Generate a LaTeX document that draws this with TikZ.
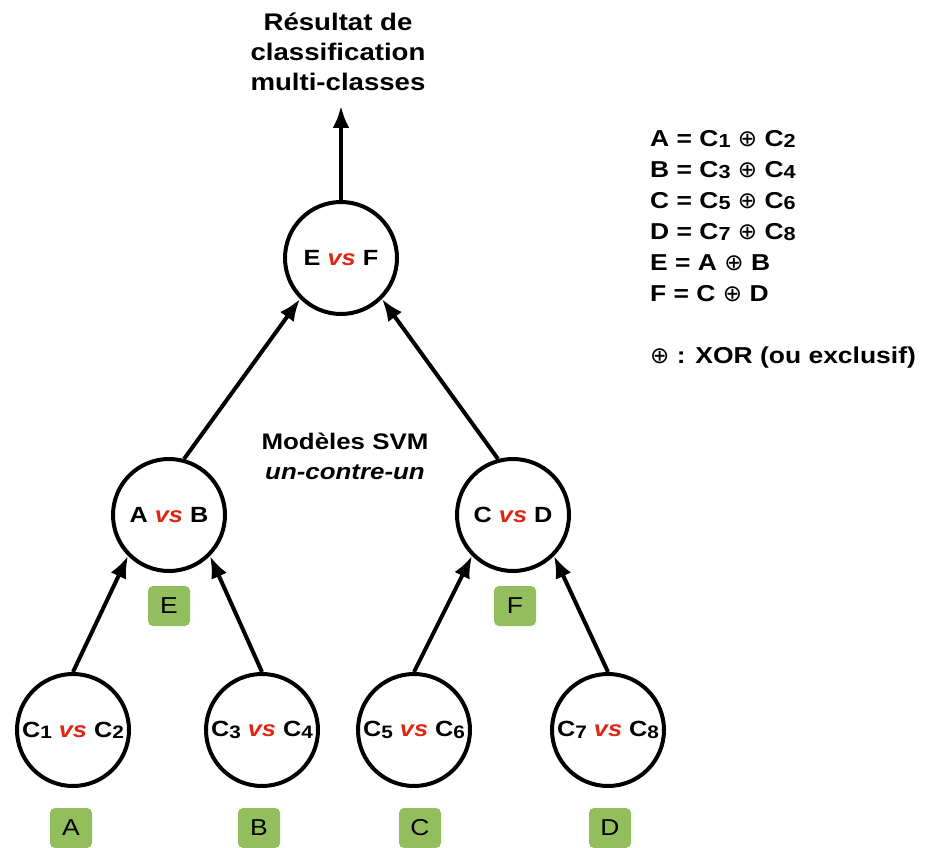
\documentclass[tikz,border=0pt]{standalone}
\usepackage{fontspec}
\usepackage{graphicx}
\setmainfont{Liberation Sans}[FakeStretch=1.15]
\newfontfamily\symfont{DejaVu Sans}
\usetikzlibrary{arrows.meta}
\definecolor{vsred}{RGB}{222,38,18}
\definecolor{tagGreen}{RGB}{146,190,94}
\newcommand{\idx}[1]{\raisebox{-0.06em}{\scalebox{0.82}{#1}}}
\newcommand{\vs}{\textcolor{vsred}{\textit{vs}}}
\newcommand{\xor}{{\symfont\mdseries ⊕}}

\begin{document}
\begin{tikzpicture}[x=1pt, y=-1pt,
  main/.style = {draw, circle, line width=4pt, minimum size=112pt, inner sep=0pt, font=\bfseries\fontsize{22}{26}\selectfont},
  tag/.style = {fill=tagGreen, rounded corners=5pt, minimum width=42pt, minimum height=40pt, inner sep=0pt, font=\fontsize{23}{26}\selectfont},
  link/.style = {line width=4pt, -{Latex[length=22pt,width=17pt]}}]
      \useasboundingbox (0,0) rectangle (926,848);
      \node[main] (ef) at (341,258) {E \vs{} F};
      \node[main] (ab) at (169,515) {A \vs{} B};
      \node[main] (cd) at (513,515) {C \vs{} D};
      \node[main] (c12) at (73,730) {C\idx{1} \vs{} C\idx{2}};
      \node[main] (c34) at (262,730) {C\idx{3} \vs{} C\idx{4}};
      \node[main] (c56) at (414,730) {C\idx{5} \vs{} C\idx{6}};
      \node[main] (c78) at (608,730) {C\idx{7} \vs{} C\idx{8}};
      \node[tag] (ta) at (71,828) {A};
      \node[tag] (tb) at (259,828) {B};
      \node[tag] (tc) at (420,828) {C};
      \node[tag] (td) at (610,828) {D};
      \node[tag] (te) at (169,606) {E};
      \node[tag] (tf) at (515,606) {F};
      \node[align=center, font=\bfseries\fontsize{24}{30}\selectfont] (res) at (338,52) {Résultat de\\classification\\multi-classes};
      \coordinate (out) at (341,106);
      \node[align=center, font=\bfseries\fontsize{22.5}{30}\selectfont] (svm) at (345,456) {Modèles SVM\\\textit{un-contre-un}};
      \node[anchor=north west, inner sep=0pt, align=left, font=\bfseries\fontsize{23}{31}\selectfont] (legend) at (650,130)
        {A = C\idx{1} \xor{} C\idx{2}\\B = C\idx{3} \xor{} C\idx{4}\\C = C\idx{5} \xor{} C\idx{6}\\D = C\idx{7} \xor{} C\idx{8}\\E = A \xor{} B\\F = C \xor{} D\\[31pt]\xor{} : XOR (ou exclusif)};
      \draw[link] (c12.north) -- (ab.225);
      \draw[link] (c34.north) -- (ab.315);
      \draw[link] (c56.north) -- (cd.225);
      \draw[link] (c78.north) -- (cd.315);
      \draw[link] (ab.75) -- (ef.225);
      \draw[link] (cd.105) -- (ef.315);
      \draw[link] (ef.north) -- (out);
    \end{tikzpicture}
\end{document}
